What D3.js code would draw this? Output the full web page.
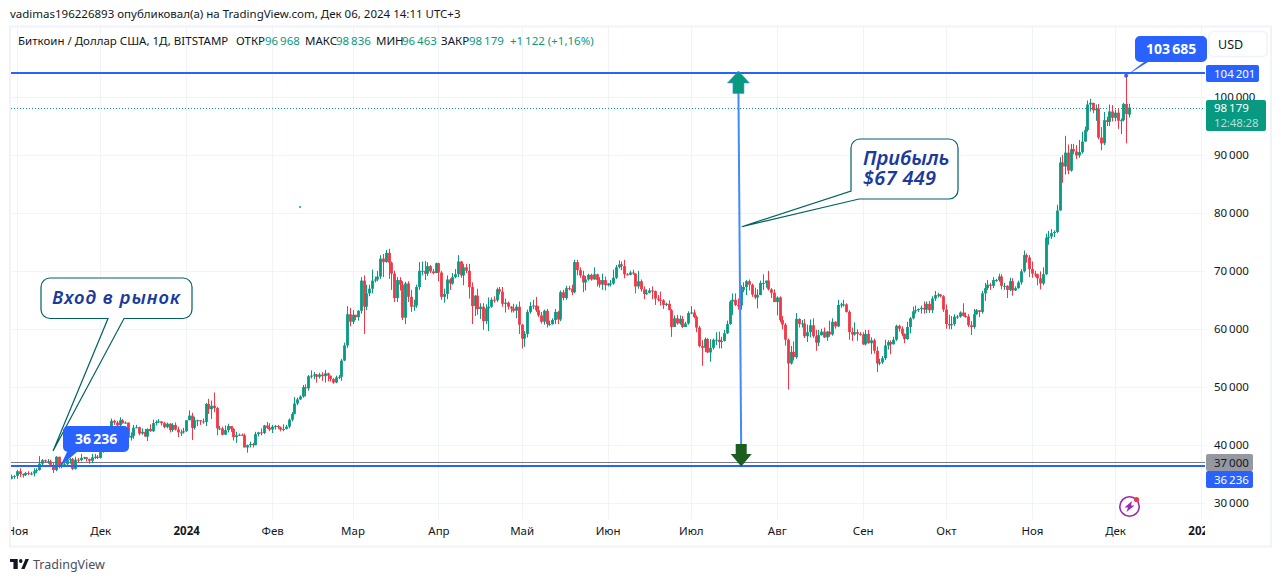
<!DOCTYPE html>
<html>
<head>
<meta charset="utf-8">
<script src="https://cdn.jsdelivr.net/npm/d3@7"></script>
<style>
  html, body { margin: 0; padding: 0; background: #fff; }
  svg { display: block; }
  text { font-family: "Noto Sans", sans-serif; }
</style>
</head>
<body>
<svg id="chart" width="1281" height="582"></svg>
<script>
// Daily BTC/USD candles, prices in thousands of dollars.
// First candle is 30 Oct 2023, one row per calendar month.
var firstDay = new Date(Date.UTC(2023, 9, 30));

var opens = [
  34.1,34.5,
  34.6,35.4,34.9,34.7,35.1,35.0,35.0,35.4,35.6,36.7,37.3,37.1,37.1,36.5,35.6,37.9,36.2,36.6,36.6,37.4,37.5,35.8,37.4,37.3,37.7,37.8,37.5,37.2,37.8,37.9,
  37.7,38.7,39.5,40.0,42.0,44.1,43.8,43.3,44.2,43.7,43.8,41.2,41.5,42.9,43.0,41.9,42.2,41.4,42.7,42.3,43.7,43.9,44.0,43.7,43.0,43.6,42.5,43.4,42.6,42.1,42.1,
  42.3,44.2,45.0,42.9,44.2,44.2,44.0,43.9,47.0,46.1,46.7,46.3,42.8,42.8,41.7,42.5,43.2,42.7,41.3,41.6,41.7,41.6,39.5,39.9,40.1,39.9,41.8,42.1,42.0,43.3,42.9,
  42.6,43.1,43.2,43.0,42.6,42.7,43.1,44.3,45.3,47.1,47.8,48.3,49.9,49.7,51.8,51.9,52.1,51.7,52.1,51.8,52.3,51.9,51.3,50.7,51.6,51.7,54.5,57.1,62.5,
  61.2,62.4,62.0,63.1,68.3,63.8,66.1,66.9,68.3,68.5,69.0,72.1,71.5,73.1,71.4,69.5,65.3,68.4,67.6,61.9,67.8,65.5,63.8,64.0,67.2,70.0,70.0,69.5,70.8,69.9,69.6,
  71.3,69.7,65.5,66.0,68.5,67.8,68.9,69.4,71.6,69.2,70.6,70.0,67.2,63.9,65.7,63.4,63.8,61.3,63.5,63.8,65.0,64.9,66.8,66.4,64.3,64.5,63.8,63.5,63.1,63.8,
  60.7,58.3,59.1,62.9,63.9,64.0,63.2,62.3,61.2,63.1,60.8,60.8,61.5,62.9,61.6,66.3,65.3,67.0,66.9,66.3,71.5,70.1,69.2,68.0,68.5,69.3,68.5,69.4,68.4,67.6,68.4,
  67.5,67.8,67.8,68.8,70.6,71.1,70.8,69.4,69.3,69.7,69.5,67.3,68.2,66.8,66.0,66.2,66.6,66.5,65.2,65.0,64.9,64.1,64.3,63.2,60.3,61.8,60.9,61.7,60.3,60.9,
  62.7,62.8,62.0,60.2,57.0,56.7,58.2,55.9,56.7,58.1,58.1,57.7,57.9,59.2,60.8,64.7,65.0,64.1,64.0,66.7,67.2,68.2,67.6,65.9,65.4,65.8,67.9,67.9,68.3,66.8,66.2,
  64.6,65.4,61.5,60.7,58.1,54.0,56.0,55.1,61.7,60.8,60.9,58.7,59.4,60.6,58.7,57.6,58.9,59.5,58.5,59.5,59.0,61.2,60.4,64.1,64.2,64.2,62.9,59.4,59.0,59.4,59.1,
  59.0,57.3,59.1,57.5,58.0,56.2,54.0,54.2,54.9,57.1,57.7,57.3,58.1,60.5,60.0,59.1,58.2,60.3,61.8,63.0,63.2,63.4,63.6,63.3,64.3,63.2,65.2,65.8,65.9,65.6,
  63.3,60.8,60.6,60.8,62.1,62.1,62.8,62.2,62.1,60.6,60.3,62.5,63.2,62.9,66.1,67.0,67.6,67.4,68.4,68.4,69.0,67.4,67.4,66.7,68.2,66.6,67.0,68.0,69.9,72.7,72.3,
  70.3,69.5,69.4,68.7,67.8,69.4,75.7,75.9,76.5,76.7,80.4,88.7,88.0,90.4,87.3,91.0,90.6,89.9,90.5,92.3,94.3,98.7,99.0,97.7,98.0,93.0,92.0,96.0,95.7,97.5,
  96.4,97.3,95.9,96.0,98.8,96.97
];
var highs = [
  34.8,34.7,
  35.6,35.9,35.0,35.3,35.4,35.3,35.9,35.9,38.0,37.5,37.4,37.5,37.4,36.8,38.0,37.9,36.9,36.8,37.5,37.7,37.7,37.9,37.7,38.4,37.9,37.8,37.6,38.4,38.4,38.2,
  38.9,39.7,40.2,42.4,44.5,44.3,44.1,44.7,44.4,44.0,43.8,42.1,43.4,43.4,43.1,42.8,42.7,42.8,43.5,44.3,44.2,44.4,44.0,43.9,43.8,43.7,43.7,43.8,43.1,42.6,42.9,
  44.2,45.9,45.5,44.8,44.3,44.2,44.5,47.2,47.9,47.6,49.0,46.5,43.2,43.1,43.3,43.6,43.2,42.9,42.2,41.9,41.9,41.9,40.0,40.5,40.3,42.2,42.2,42.8,43.4,43.9,43.7,
  43.4,43.4,43.4,43.1,43.5,43.4,44.5,45.6,48.2,48.1,48.5,50.3,50.4,52.0,52.8,52.5,52.2,52.4,52.5,52.9,52.4,51.9,51.5,51.9,52.0,54.8,57.6,63.9,63.6,
  63.2,62.4,63.2,68.9,69.2,67.6,67.6,70.2,69.0,70.0,72.7,72.9,73.6,73.8,71.6,70.0,68.9,68.9,68.2,68.1,68.2,66.7,65.0,67.6,71.5,71.6,71.7,71.5,71.0,70.3,71.4,
  71.4,70.0,66.9,69.2,68.7,69.6,70.3,72.7,71.7,71.2,71.2,71.2,68.0,65.8,66.9,64.4,64.4,64.2,65.4,65.4,65.6,67.1,67.2,67.2,65.2,64.7,63.9,64.3,64.2,64.7,
  60.8,59.6,63.3,64.6,65.0,65.5,63.9,62.9,63.3,63.4,61.4,61.8,63.4,63.1,66.6,66.7,67.4,67.4,67.6,71.9,71.9,70.6,70.0,69.1,69.5,69.5,70.6,69.5,68.9,69.5,69.0,
  67.9,68.4,70.2,71.0,71.8,71.6,71.9,69.6,70.0,70.2,69.6,70.0,68.5,67.3,66.8,67.0,67.3,66.6,65.8,66.4,65.1,64.5,64.9,63.4,62.3,62.4,62.3,62.2,61.2,63.0,
  63.9,63.3,62.3,60.5,58.0,58.5,58.4,58.2,58.3,59.4,59.5,58.6,59.8,61.4,64.9,66.1,66.1,65.2,67.5,68.0,68.4,68.5,67.8,67.1,66.8,68.3,69.4,68.3,70.0,67.0,66.8,
  65.6,65.6,62.2,61.0,58.3,57.0,57.8,62.7,61.8,61.5,61.7,60.7,61.6,61.8,59.8,59.8,60.0,60.2,59.6,61.4,61.8,61.3,65.0,64.5,65.0,64.4,63.2,60.2,61.1,59.9,59.4,
  59.4,59.8,59.8,58.5,58.3,56.9,54.8,55.3,58.1,58.0,58.0,58.6,60.7,60.7,60.4,59.2,61.2,62.0,63.8,64.0,63.5,64.0,64.7,64.7,64.8,65.6,66.5,66.2,66.0,65.8,
  64.2,62.4,62.2,62.5,62.4,63.0,64.4,62.8,62.5,61.3,63.4,63.4,63.1,66.5,67.9,68.4,67.9,68.9,68.6,69.5,69.4,67.9,67.5,68.8,68.7,67.3,68.3,70.3,73.5,73.0,72.7,
  71.6,70.0,69.5,69.9,70.6,76.4,76.9,77.2,77.0,81.4,89.6,90.0,93.3,91.8,91.9,91.9,91.7,92.6,94.0,94.9,99.4,99.7,99.0,98.7,98.8,94.8,97.4,96.6,98.7,98.6,
  97.8,98.0,96.3,99.0,103.69,98.84
];
var lows = [
  34.0,34.1,
  34.1,34.4,34.3,34.6,34.7,34.7,34.5,35.1,35.5,36.3,36.9,36.7,36.3,35.1,35.4,35.9,35.9,36.2,36.2,36.7,35.6,35.7,36.9,37.1,37.5,37.1,36.7,36.8,37.5,37.5,
  37.6,38.6,39.3,39.9,41.4,43.4,42.8,43.0,43.6,43.6,40.3,40.7,41.0,42.8,41.6,41.7,41.3,40.6,42.2,42.2,43.3,43.7,43.3,42.8,42.8,42.1,42.2,42.4,41.3,41.5,41.9,
  42.2,44.2,40.8,42.6,43.2,43.4,43.6,43.2,45.3,44.4,45.6,41.6,42.5,41.6,41.7,42.1,42.2,40.7,40.3,41.5,41.5,39.5,38.6,39.5,39.5,39.9,41.4,41.6,41.8,42.7,42.3,
  42.0,42.6,42.7,42.3,42.3,42.6,42.8,44.0,45.2,46.8,47.7,48.1,48.3,49.3,51.4,51.3,50.7,51.4,51.0,50.7,50.9,50.9,50.5,50.6,51.3,51.0,54.4,56.7,60.4,
  60.8,61.5,61.4,62.6,59.1,63.2,65.6,66.1,68.0,68.2,68.6,68.9,71.4,68.6,66.7,64.6,64.6,66.6,61.5,60.8,64.6,62.9,63.1,63.6,66.7,69.2,68.4,69.1,69.6,69.4,69.6,
  68.2,65.0,64.5,65.1,66.7,67.6,68.7,68.9,68.8,67.5,69.6,65.2,60.8,62.2,62.4,61.7,59.8,60.8,59.6,63.6,64.5,64.6,65.9,63.8,62.8,63.3,62.8,62.8,61.8,59.1,
  56.6,56.9,58.5,62.6,63.4,62.9,62.0,60.9,60.7,60.2,60.5,60.7,60.8,60.8,61.3,64.9,65.0,66.6,65.8,66.1,69.2,68.8,66.3,66.6,68.3,68.3,68.5,67.3,67.1,66.7,66.6,
  67.3,67.3,67.6,68.6,70.4,70.1,68.7,69.2,69.2,69.3,66.1,66.9,66.4,65.1,65.8,66.1,65.1,64.1,64.7,64.0,63.4,63.9,63.2,58.6,60.3,60.7,60.7,60.1,60.3,60.7,
  62.5,61.8,59.4,56.8,53.6,56.0,55.8,54.3,56.4,57.2,56.6,56.6,57.8,59.1,60.7,62.4,63.9,63.3,63.3,66.3,65.8,66.6,65.5,65.1,63.5,65.8,66.7,67.1,66.6,65.3,64.6,
  62.3,61.1,59.9,57.1,49.5,53.8,54.5,54.8,60.2,60.2,58.4,57.7,58.5,58.4,56.2,57.0,58.8,58.4,57.9,58.6,58.8,60.0,60.3,63.6,63.8,62.8,58.1,57.9,58.8,57.9,58.8,
  57.2,57.1,57.4,55.6,55.7,52.5,53.7,53.9,54.6,56.4,55.6,57.3,57.9,59.5,58.7,57.5,58.1,59.2,61.6,62.6,62.9,62.6,62.6,62.7,62.7,62.7,64.8,65.4,65.4,62.9,
  60.0,59.9,59.9,60.5,61.7,61.9,62.1,61.9,60.3,58.9,60.0,62.4,62.0,62.6,64.8,66.7,66.7,67.0,68.1,68.1,66.8,66.7,65.3,66.5,65.7,66.5,66.9,67.6,69.7,71.4,68.9,
  68.8,68.9,67.5,66.8,67.5,69.3,74.5,75.5,75.8,76.5,80.4,85.2,86.6,86.7,87.1,90.1,89.3,89.5,90.2,92.3,94.0,97.5,97.2,95.9,92.7,90.8,91.7,95.0,95.0,95.8,
  95.8,94.5,93.6,95.8,92.0,96.46
];
var closes = [
  34.5,34.6,
  35.4,34.9,34.7,35.1,35.0,35.0,35.4,35.6,36.7,37.3,37.1,37.1,36.5,35.6,37.9,36.2,36.6,36.6,37.4,37.5,35.8,37.4,37.3,37.7,37.8,37.5,37.2,37.8,37.9,37.7,
  38.7,39.5,40.0,42.0,44.1,43.8,43.3,44.2,43.7,43.8,41.2,41.5,42.9,43.0,41.9,42.2,41.4,42.7,42.3,43.7,43.9,44.0,43.7,43.0,43.6,42.5,43.4,42.6,42.1,42.1,42.3,
  44.2,45.0,42.9,44.2,44.2,44.0,43.9,47.0,46.1,46.7,46.3,42.8,42.8,41.7,42.5,43.2,42.7,41.3,41.6,41.7,41.6,39.5,39.9,40.1,39.9,41.8,42.1,42.0,43.3,42.9,42.6,
  43.1,43.2,43.0,42.6,42.7,43.1,44.3,45.3,47.1,47.8,48.3,49.9,49.7,51.8,51.9,52.1,51.7,52.1,51.8,52.3,51.9,51.3,50.7,51.6,51.7,54.5,57.1,62.5,61.2,
  62.4,62.0,63.1,68.3,63.8,66.1,66.9,68.3,68.5,69.0,72.1,71.5,73.1,71.4,69.5,65.3,68.4,67.6,61.9,67.8,65.5,63.8,64.0,67.2,70.0,70.0,69.5,70.8,69.9,69.6,71.3,
  69.7,65.5,66.0,68.5,67.8,68.9,69.4,71.6,69.2,70.6,70.0,67.2,63.9,65.7,63.4,63.8,61.3,63.5,63.8,65.0,64.9,66.8,66.4,64.3,64.5,63.8,63.5,63.1,63.8,60.7,
  58.3,59.1,62.9,63.9,64.0,63.2,62.3,61.2,63.1,60.8,60.8,61.5,62.9,61.6,66.3,65.3,67.0,66.9,66.3,71.5,70.1,69.2,68.0,68.5,69.3,68.5,69.4,68.4,67.6,68.4,67.5,
  67.8,67.8,68.8,70.6,71.1,70.8,69.4,69.3,69.7,69.5,67.3,68.2,66.8,66.0,66.2,66.6,66.5,65.2,65.0,64.9,64.1,64.3,63.2,60.3,61.8,60.9,61.7,60.3,60.9,62.7,
  62.8,62.0,60.2,57.0,56.7,58.2,55.9,56.7,58.1,58.1,57.7,57.9,59.2,60.8,64.7,65.0,64.1,64.0,66.7,67.2,68.2,67.6,65.9,65.4,65.8,67.9,67.9,68.3,66.8,66.2,64.6,
  65.4,61.5,60.7,58.1,54.0,56.0,55.1,61.7,60.8,60.9,58.7,59.4,60.6,58.7,57.6,58.9,59.5,58.5,59.5,59.0,61.2,60.4,64.1,64.2,64.2,62.9,59.4,59.0,59.4,59.1,59.0,
  57.3,59.1,57.5,58.0,56.2,54.0,54.2,54.9,57.1,57.7,57.3,58.1,60.5,60.0,59.1,58.2,60.3,61.8,63.0,63.2,63.4,63.6,63.3,64.3,63.2,65.2,65.8,65.9,65.6,63.3,
  60.8,60.6,60.8,62.1,62.1,62.8,62.2,62.1,60.6,60.3,62.5,63.2,62.9,66.1,67.0,67.6,67.4,68.4,68.4,69.0,67.4,67.4,66.7,68.2,66.6,67.0,68.0,69.9,72.7,72.3,70.3,
  69.5,69.4,68.7,67.8,69.4,75.7,75.9,76.5,76.7,80.4,88.7,88.0,90.4,87.3,91.0,90.6,89.9,90.5,92.3,94.3,98.7,99.0,97.7,98.0,93.0,92.0,96.0,95.7,97.5,96.4,
  97.3,95.9,96.0,98.8,97.06,98.18
];

// Axis labels
var priceTicks = [30, 40, 50, 60, 70, 80, 90, 100];
var monthTicks = ["2023-11-01","2023-12-01","2024-01-01","2024-02-01","2024-03-01","2024-04-01","2024-05-01","2024-06-01","2024-07-01","2024-08-01","2024-09-01","2024-10-01","2024-11-01","2024-12-01","2025-01-01"];
var monthLabels = ["Ноя","Дек","2024","Фев","Мар","Апр","Май","Июн","Июл","Авг","Сен","Окт","Ноя","Дек","2025"];

// Horizontal levels drawn on the chart
var entryPrice = 36.236, targetPrice = 104.201, roundLevel = 37, lastPrice = 98.179, spikeHigh = 103.685;

var headerLine = "vadimas196226893 опубликовал(а) на TradingView.com, Дек 06, 2024 14:11 UTC+3";
var legendParts = [
  ["Биткоин / Доллар США, 1Д, BITSTAMP", 18, 0], ["ОТКР", 236, 0], ["96 968", 265, 1],
  ["МАКС", 305, 0], ["98 836", 336, 1], ["МИН", 376, 0], ["96 463", 402, 1],
  ["ЗАКР", 441, 0], ["98 179", 469, 1], ["+1 122 (+1,16%)", 510, 1]
];

var up = "#089981", down = "#F23645", blue = "#2962FF", ink = "#131722", grid = "#F0F3FA";
var calloutInk = "#006064", calloutText = "#1A3A9E", frameInk = "#F0F3FA";
var plot = { left: 11, right: 1205, top: 27, bottom: 519 };

var svg = d3.select("#chart");
var fmt = function(k) { return d3.format(",.0f")(k * 1000).replace(/,/g, "\u202f"); };
var day = 24 * 3600 * 1000;

var x = d3.scaleUtc()
    .domain([new Date(Date.UTC(2023, 10, 1)), new Date(Date.UTC(2025, 0, 1))])
    .range([17, 1201]);
var y = d3.scaleLinear().domain([30, 100]).range([502.5, 97]);
var crisp = function(v) { return Math.round(v) + 0.5; };

var candles = closes.map(function(c, i) {
  return { date: new Date(firstDay.getTime() + i * day), o: opens[i], h: highs[i], l: lows[i], c: c };
});
var monthDates = monthTicks.map(function(s) { return new Date(s + "T00:00:00Z"); });

var defs = svg.append("defs");
defs.append("clipPath").attr("id", "plotClip").append("rect")
    .attr("x", plot.left).attr("y", plot.top)
    .attr("width", plot.right - plot.left).attr("height", plot.bottom - plot.top);
defs.append("clipPath").attr("id", "timeClip").append("rect")
    .attr("x", plot.left).attr("y", plot.bottom)
    .attr("width", plot.right - plot.left).attr("height", 27);

// Header and frame
svg.append("text").attr("x", 10).attr("y", 18).attr("font-size", 11.5).attr("fill", ink).text(headerLine);
svg.append("rect").attr("x", 10).attr("y", 26.5).attr("width", 1261).attr("height", 520)
    .attr("fill", "none").attr("stroke", frameInk).attr("stroke-width", 2);

// Grid
var gridG = svg.append("g").attr("clip-path", "url(#plotClip)");
gridG.selectAll("line.h").data(priceTicks).enter().append("line").attr("class", "h")
    .attr("x1", plot.left).attr("x2", plot.right)
    .attr("y1", function(d) { return crisp(y(d)); })
    .attr("y2", function(d) { return crisp(y(d)); })
    .attr("stroke", grid);
gridG.selectAll("line.v").data(monthDates).enter().append("line").attr("class", "v")
    .attr("y1", plot.top).attr("y2", plot.bottom)
    .attr("x1", function(d) { return crisp(x(d)); })
    .attr("x2", function(d) { return crisp(x(d)); })
    .attr("stroke", grid);

// Levels
var levelG = svg.append("g").attr("clip-path", "url(#plotClip)");
levelG.append("line").attr("x1", plot.left).attr("x2", plot.right)
    .attr("y1", crisp(y(lastPrice))).attr("y2", crisp(y(lastPrice)))
    .attr("stroke", up).attr("stroke-dasharray", "1 2");
levelG.append("line").attr("x1", plot.left).attr("x2", plot.right)
    .attr("y1", crisp(y(roundLevel))).attr("y2", crisp(y(roundLevel)))
    .attr("stroke", "#787B86");

// Candles
var candleG = svg.append("g").attr("clip-path", "url(#plotClip)");
var sel = candleG.selectAll("g").data(candles).enter().append("g");
var colour = function(d) { return d.c >= d.o ? up : down; };
sel.append("line")
    .attr("x1", function(d) { return crisp(x(d.date)); })
    .attr("x2", function(d) { return crisp(x(d.date)); })
    .attr("y1", function(d) { return y(d.h); })
    .attr("y2", function(d) { return y(d.l); })
    .attr("stroke", colour);
sel.append("rect")
    .attr("x", function(d) { return crisp(x(d.date)) - 1.4; })
    .attr("width", 2.8)
    .attr("y", function(d) { return y(Math.max(d.o, d.c)); })
    .attr("height", function(d) { return Math.max(1, Math.abs(y(d.o) - y(d.c))); })
    .attr("fill", colour);

levelG = svg.append("g").attr("clip-path", "url(#plotClip)");
[targetPrice, entryPrice].forEach(function(p) {
  levelG.append("line").attr("x1", plot.left).attr("x2", plot.right)
      .attr("y1", Math.round(y(p))).attr("y2", Math.round(y(p)))
      .attr("stroke", blue).attr("stroke-width", 2);
});

// Profit arrow
var arrowTop = { date: new Date(Date.UTC(2024, 6, 18)), price: targetPrice + 0.3 };
var arrowBottom = { date: new Date(Date.UTC(2024, 6, 19)), price: entryPrice };
var topX = x(arrowTop.date) + 0.5, topY = y(arrowTop.price);
var botX = x(arrowBottom.date) + 0.5, botY = y(arrowBottom.price);
svg.append("line").attr("x1", topX).attr("y1", topY + 20).attr("x2", botX).attr("y2", botY - 15)
    .attr("stroke", "#448AFF").attr("stroke-width", 2);
svg.append("path")
    .attr("d", "M" + topX + "," + topY + "l11,12h-5.5v10.5h-11v-10.5h-5.5z")
    .attr("fill", up).attr("stroke", "#448AFF").attr("stroke-width", 0.6);
svg.append("path")
    .attr("d", "M" + botX + "," + botY + "l-10.5,-12.5h5v-10h11v10h5z")
    .attr("fill", "#1B5E20");

// Text callouts with a thin tail
function callout(left, top, w, h, baseA, baseB, tip, lines) {
  var r = 9;
  var pts = "M" + (left + r) + "," + top
    + "H" + (left + w - r) + "A" + r + "," + r + " 0 0 1 " + (left + w) + "," + (top + r)
    + "V" + (top + h - r) + "A" + r + "," + r + " 0 0 1 " + (left + w - r) + "," + (top + h);
  if (baseA[1] === top + h) {
    pts += "H" + baseB[0] + "L" + tip[0] + "," + tip[1] + "L" + baseA[0] + "," + baseA[1];
    pts += "H" + (left + r) + "A" + r + "," + r + " 0 0 1 " + left + "," + (top + h - r);
  } else {
    pts += "H" + baseB[0] + "L" + tip[0] + "," + tip[1] + "L" + baseA[0] + "," + baseA[1];
  }
  pts += "V" + (top + r) + "A" + r + "," + r + " 0 0 1 " + (left + r) + "," + top + "Z";
  svg.append("path").attr("d", pts).attr("fill", "#fff")
      .attr("stroke", calloutInk).attr("stroke-width", 1.2);
  lines.forEach(function(l) {
    svg.append("text").attr("x", l[1]).attr("y", l[2])
        .attr("font-family", "Lato").attr("font-style", "italic").attr("font-weight", 600)
        .attr("font-size", l[3]).attr("letter-spacing", l[4]).attr("fill", calloutText).text(l[0]);
  });
}
callout(41, 278, 151, 40.5, [108, 318.5], [124, 318.5], [x(new Date(Date.UTC(2023, 10, 14))), y(38.9)],
  [["Вход в рынок", 52, 304, 18.5, 1]]);
callout(851, 139, 107, 60, [851, 191], [859, 199], [x(new Date(Date.UTC(2024, 6, 19))) + 1, y(77.6)],
  [["Прибыль", 863, 165, 20, 0], ["$67 449", 863, 185, 20, 0.3]]);

// Blue price bubbles
function bubble(left, top, w, h, baseA, baseB, tip, label, textX) {
  var r = 5;
  var d = "M" + (left + r) + "," + top + "H" + (left + w - r)
    + "A" + r + "," + r + " 0 0 1 " + (left + w) + "," + (top + r)
    + "V" + (top + h - r) + "A" + r + "," + r + " 0 0 1 " + (left + w - r) + "," + (top + h)
    + "H" + baseB + "L" + tip[0] + "," + tip[1] + "L" + baseA + "," + (top + h)
    + "H" + (left + r) + "A" + r + "," + r + " 0 0 1 " + left + "," + (top + h - r)
    + "V" + (top + r) + "A" + r + "," + r + " 0 0 1 " + (left + r) + "," + top + "Z";
  svg.append("path").attr("d", d).attr("fill", blue);
  svg.append("text").attr("x", textX).attr("y", top + h / 2 + 5)
      .attr("fill", "#fff").attr("font-size", 14).attr("font-weight", 700).text(label);
}
bubble(63, 426, 66, 26, 67, 77, [60, y(entryPrice)], fmt(entryPrice), 75);
bubble(1135, 36, 72, 26, 1144, 1148, [x(new Date(Date.UTC(2024, 11, 5))), y(spikeHigh)], fmt(spikeHigh), 1146);
svg.append("circle").attr("cx", x(new Date(Date.UTC(2024, 11, 5)))).attr("cy", y(spikeHigh))
    .attr("r", 2).attr("fill", "#2962FF");

// Stray dot left on the drawing layer
svg.append("rect").attr("x", 299).attr("y", 206).attr("width", 2).attr("height", 2).attr("fill", "#4DB6AC");

// Price axis
var priceAxis = d3.axisRight(y).tickValues(priceTicks).tickFormat(fmt).tickSize(0).tickPadding(0);
var priceG = svg.append("g").attr("transform", "translate(1214,0)").call(priceAxis);
priceG.select(".domain").remove();
priceG.selectAll("text").attr("font-size", 11.5).attr("letter-spacing", -0.15).attr("font-family", "Noto Sans").attr("fill", ink);

function priceTag(top, w, h, fill, textFill, label) {
  svg.append("rect").attr("x", 1206).attr("y", top).attr("width", w).attr("height", h).attr("rx", 2).attr("fill", fill);
  svg.append("text").attr("x", 1214).attr("y", top + h / 2 + 4.5).attr("font-size", 11.5)
      .attr("letter-spacing", -0.15).attr("fill", textFill).text(label);
}
priceTag(65, 53, 17, blue, "#fff", fmt(targetPrice));
priceTag(100, 60, 31, up, "#fff", "");
svg.append("text").attr("x", 1214).attr("y", 112).attr("font-size", 11.5).attr("letter-spacing", -0.15).attr("fill", "#fff").text(fmt(lastPrice));
svg.append("text").attr("x", 1214).attr("y", 127).attr("font-size", 11.5).attr("letter-spacing", -0.15).attr("fill", "#B2DFDB").text("12:48:28");
priceTag(454, 47, 17, "#9598A1", ink, fmt(roundLevel));
priceTag(471, 47, 17, blue, "#fff", fmt(entryPrice));

// USD button
svg.append("rect").attr("x", 1209).attr("y", 31.5).attr("width", 58).attr("height", 25).attr("rx", 4)
    .attr("fill", "#fff").attr("stroke", frameInk).attr("stroke-width", 1.5);
svg.append("text").attr("x", 1218).attr("y", 49).attr("font-size", 12.5).attr("fill", ink).text("USD");

// Time axis
var timeAxis = d3.axisBottom(x).tickValues(monthDates)
    .tickFormat(function(d, i) { return monthLabels[i]; }).tickSize(0).tickPadding(0);
var timeG = svg.append("g").attr("clip-path", "url(#timeClip)")
    .append("g").attr("transform", "translate(0,527)").call(timeAxis);
timeG.select(".domain").remove();
timeG.selectAll("text").attr("font-size", 11.5).attr("font-family", "Noto Sans").attr("fill", ink)
    .attr("font-weight", function(d, i) { return /^\d/.test(monthLabels[i]) ? 700 : 400; });

// Legend row
legendParts.forEach(function(p) {
  svg.append("text").attr("x", p[1]).attr("y", 45).attr("font-size", 11.5)
      .attr("fill", p[2] ? up : ink).text(p[0].replace(/(\d) (\d)/g, "$1\u202f$2"));
});

// Lightning badge
var badge = svg.append("g").attr("transform", "translate(1129.5,506.5)");
badge.append("circle").attr("r", 9.7).attr("fill", "#fff").attr("stroke", "#9C27B0").attr("stroke-width", 1.6);
badge.append("path").attr("d", "M2.5,-5.5L-5,1h3.5L-3,5.5L5,-1h-3.5z").attr("fill", "#9C27B0");
badge.append("circle").attr("cx", 7).attr("cy", -7).attr("r", 2.6).attr("fill", down);

// TradingView logo and name
var logo = svg.append("g").attr("transform", "translate(10,557) scale(0.86,1)").attr("fill", ink);
logo.append("path").attr("d", "M9,2H0v3h4v7h5zM17,12h-4l5,-10h4z");
logo.append("circle").attr("cx", 12.5).attr("cy", 4).attr("r", 2);
svg.append("text").attr("x", 33).attr("y", 569).attr("font-size", 12.5).attr("fill", "#4A4E5C").text("TradingView");
</script>
</body>
</html>
